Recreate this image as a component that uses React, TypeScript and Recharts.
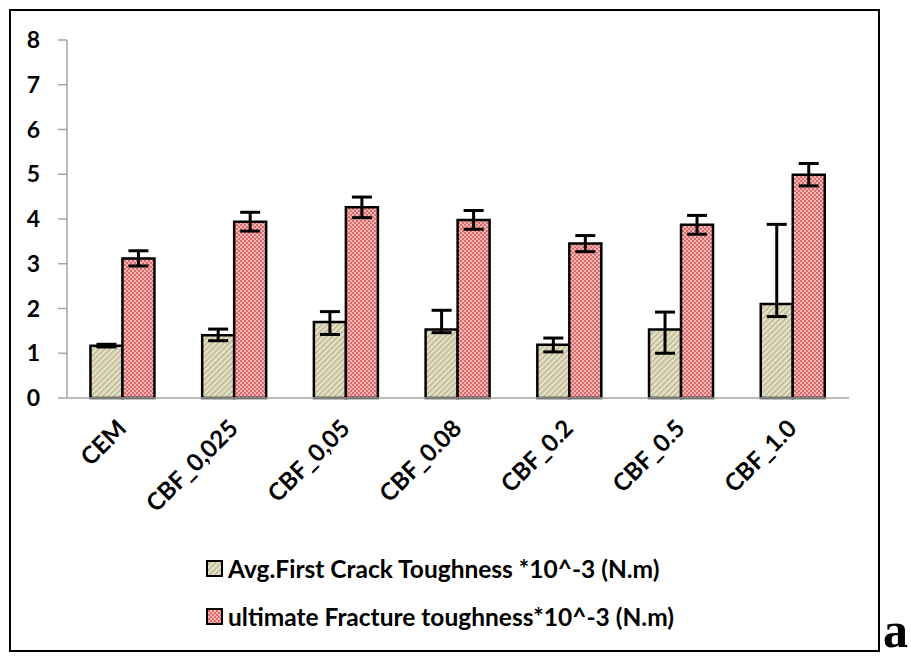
import React from "react"
import { Bar, BarChart, XAxis, YAxis, ErrorBar, Legend } from "recharts"

const categories = ["CEM", "CBF_0,025", "CBF_0,05", "CBF_0.08", "CBF_0.2", "CBF_0.5", "CBF_1.0"]
const firstCrack = [1.17, 1.4, 1.7, 1.53, 1.19, 1.53, 2.1]
const firstCrackErrLow = [0.03, 0.12, 0.28, 0.07, 0.16, 0.53, 0.28]
const firstCrackErrHigh = [0.03, 0.14, 0.23, 0.43, 0.15, 0.39, 1.78]
const ultimate = [3.12, 3.94, 4.26, 3.98, 3.45, 3.87, 4.99]
const ultimateErr = [0.17, 0.21, 0.23, 0.21, 0.18, 0.21, 0.25]
const yTicks = [0, 1, 2, 3, 4, 5, 6, 7, 8]
const boundaryTicks = [0, 1, 2, 3, 4, 5, 6, 7]

const firstLabel = "Avg.First Crack Toughness *10^-3 (N.m)"
const ultimateLabel = "ultimate Fracture toughness*10^-3 (N.m)"

const data = categories.map((name, i) => ({
    name,
    first: firstCrack[i],
    firstErr: [firstCrackErrLow[i], firstCrackErrHigh[i]],
    ult: ultimate[i],
    ultErr: ultimateErr[i],
}))

const FONT = "Lato, 'Open Sans', sans-serif"
const AXIS = "#a6a6a6"

const CatTick = ({ x, y, payload }: any) => (
    <text
        x={x + 5}
        y={y + 14}
        transform={`rotate(-45 ${x + 5} ${y + 14})`}
        textAnchor="end"
        fontFamily={FONT}
        fontWeight={700}
        fontSize={24}
        fill="#000"
    >
        {payload.value}
    </text>
)

const LegendBox = () => {
    const rows = [
        { label: firstLabel, fill: "url(#hatchBeige)" },
        { label: ultimateLabel, fill: "url(#checkRed)" },
    ]
    return (
        <div style={{ fontFamily: FONT, fontWeight: 700, fontSize: 24.5, color: "#000" }}>
            {rows.map((r) => (
                <div key={r.label} style={{ display: "flex", alignItems: "center", height: 48 }}>
                    <svg width={17} height={17} style={{ marginRight: 5 }}>
                        <rect x={1} y={1} width={15} height={15} fill={r.fill} stroke="#000" strokeWidth={2} />
                    </svg>
                    <span style={{ whiteSpace: "nowrap" }}>{r.label}</span>
                </div>
            ))}
        </div>
    )
}

export default function App() {
    return (
        <div style={{ position: "fixed", left: 0, top: 0, width: 911, height: 658, background: "#fff", overflow: "hidden" }}>
            <svg width={0} height={0} style={{ position: "absolute" }}>
                <defs>
                    <pattern id="hatchBeige" width={4} height={4} patternUnits="userSpaceOnUse" patternTransform="rotate(45)">
                        <rect width={4} height={4} fill="#e6e2c9" />
                        <rect width={1.6} height={4} fill="#bdb892" />
                    </pattern>
                    <pattern id="checkRed" width={4} height={4} patternUnits="userSpaceOnUse">
                        <rect width={4} height={4} fill="#f3b9b9" />
                        <rect width={2} height={2} fill="#e06a6a" />
                        <rect x={2} y={2} width={2} height={2} fill="#e06a6a" />
                    </pattern>
                </defs>
            </svg>
            <div
                style={{
                    position: "absolute",
                    left: 9,
                    top: 9,
                    width: 871,
                    height: 643,
                    border: "2px solid #000",
                    boxSizing: "border-box",
                }}
            />
            <div style={{ position: "absolute", left: 0, top: 0 }}>
                <BarChart
                    width={911}
                    height={658}
                    data={data}
                    margin={{ top: 40, right: 62, bottom: 0, left: 0 }}
                    barCategoryGap="21%"
                    barGap={0}
                >
                    <XAxis
                        xAxisId="a"
                        type="number"
                        domain={[0, 7]}
                        ticks={boundaryTicks}
                        tick={false}
                        tickSize={9}
                        height={10}
                        stroke={AXIS}
                        strokeWidth={1.5}
                        allowDataOverflow
                    />
                    <XAxis
                        xAxisId="b"
                        dataKey="name"
                        axisLine={false}
                        tickLine={false}
                        tick={<CatTick />}
                        interval={0}
                        height={250}
                    />
                    <YAxis
                        domain={[0, 8]}
                        ticks={yTicks}
                        width={67}
                        tickSize={9}
                        tickMargin={18}
                        stroke={AXIS}
                        strokeWidth={1.5}
                        tick={{ fill: "#000", fontFamily: FONT, fontWeight: 700, fontSize: 23 }}
                    />
                    <Legend
                        layout="vertical"
                        align="center"
                        verticalAlign="middle"
                        content={<LegendBox />}
                        wrapperStyle={{ left: 206, top: 544, width: 560 }}
                    />
                    <Bar
                        xAxisId="b"
                        dataKey="first"
                        name={firstLabel}
                        fill="url(#hatchBeige)"
                        stroke="#000"
                        strokeWidth={2.5}
                        isAnimationActive={false}
                    >
                        <ErrorBar dataKey="firstErr" width={10} strokeWidth={3} stroke="#000" />
                    </Bar>
                    <Bar
                        xAxisId="b"
                        dataKey="ult"
                        name={ultimateLabel}
                        fill="url(#checkRed)"
                        stroke="#000"
                        strokeWidth={2.5}
                        isAnimationActive={false}
                    >
                        <ErrorBar dataKey="ultErr" width={10} strokeWidth={3} stroke="#000" />
                    </Bar>
                </BarChart>
            </div>
            <div
                style={{
                    position: "absolute",
                    left: 883,
                    top: 604,
                    fontFamily: "'Liberation Serif', serif",
                    fontWeight: 700,
                    fontSize: 50,
                    lineHeight: "52px",
                    color: "#000",
                }}
            >
                a
            </div>
        </div>
    )
}
